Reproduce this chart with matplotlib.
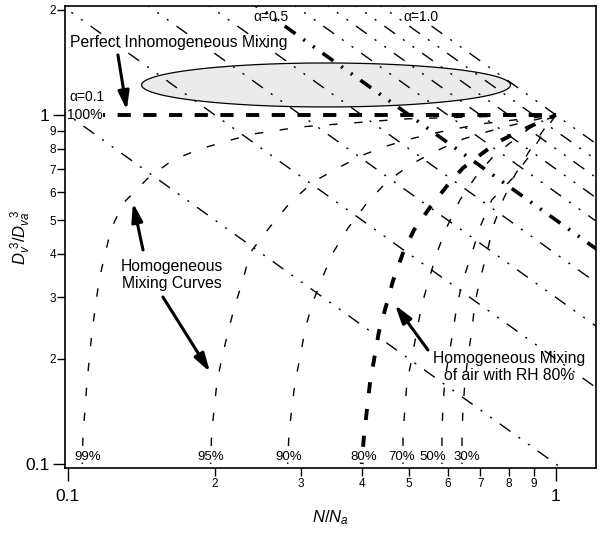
import numpy as np
import matplotlib
matplotlib.use('Agg')
import matplotlib.pyplot as plt
from matplotlib.ticker import FixedLocator, FuncFormatter

plt.rcParams['font.family'] = ['Liberation Sans', 'DejaVu Sans']
plt.rcParams['mathtext.fontset'] = 'custom'
plt.rcParams['mathtext.rm'] = 'Liberation Sans'
plt.rcParams['mathtext.it'] = 'Liberation Sans:italic'
plt.rcParams['lines.scale_dashes'] = False

# adiabatic fraction lines (LWC / LWC_a), y = alpha / x
alphas = [0.1, 0.2, 0.3, 0.4, 0.5, 0.6, 0.7, 0.8, 0.9, 1.0]

# homogeneous mixing curves (RH of entrained air)
hom_99_x = [0.107, 0.1073, 0.1094, 0.112, 0.1158, 0.119, 0.1227, 0.1305, 0.146, 0.164, 0.1865, 0.2118, 0.2395, 0.299, 0.384, 0.486, 0.667, 1.0]
hom_99_y = [0.1, 0.1195, 0.1718, 0.239, 0.3367, 0.397, 0.4745, 0.5634, 0.66, 0.743, 0.799, 0.842, 0.882, 0.924, 0.949, 0.974, 0.987, 1.0]
hom_95_x = [0.196, 0.197, 0.202, 0.2068, 0.2128, 0.22, 0.2284, 0.236, 0.2594, 0.285, 0.318, 0.361, 0.402, 0.45, 0.502, 0.565, 0.699, 1.0]
hom_95_y = [0.1, 0.1227, 0.1718, 0.2013, 0.239, 0.2855, 0.3367, 0.4024, 0.478, 0.56, 0.643, 0.71, 0.768, 0.815, 0.853, 0.888, 0.942, 1.0]
hom_90_x = [0.282, 0.2837, 0.2918, 0.2988, 0.306, 0.316, 0.33, 0.349, 0.375, 0.41, 0.45, 0.502, 0.557, 0.636, 0.768, 1.0]
hom_90_y = [0.1, 0.1227, 0.1707, 0.2013, 0.242, 0.2855, 0.3345, 0.4024, 0.4745, 0.56, 0.643, 0.719, 0.778, 0.848, 0.918, 1.0]
hom_80_x = [0.40, 0.4043, 0.4159, 0.4337, 0.4634, 0.486, 0.5117, 0.5546, 0.598, 0.645, 0.699, 0.7605, 0.836, 0.927, 1.0]
hom_80_y = [0.1, 0.1209, 0.1707, 0.239, 0.3345, 0.4024, 0.468, 0.5486, 0.626, 0.705, 0.768, 0.837, 0.894, 0.955, 1.0]
hom_70_x = [0.486, 0.486, 0.4905, 0.495, 0.507, 0.519, 0.531, 0.549, 0.57, 0.598, 0.636, 0.682, 0.739, 0.805, 0.885, 1.0]
hom_70_y = [0.1, 0.1227, 0.1446, 0.1707, 0.2013, 0.242, 0.2855, 0.3367, 0.4024, 0.478, 0.571, 0.66, 0.753, 0.831, 0.918, 1.0]
hom_50_x = [0.584, 0.584, 0.5865, 0.592, 0.6036, 0.615, 0.627, 0.645, 0.673, 0.699, 0.739, 0.816, 0.876, 0.936, 1.0]
hom_50_y = [0.1, 0.1227, 0.1446, 0.174, 0.205, 0.239, 0.2855, 0.3367, 0.4024, 0.478, 0.571, 0.66, 0.753, 0.876, 1.0]
hom_30_x = [0.642, 0.642, 0.645, 0.651, 0.66, 0.673, 0.682, 0.699, 0.722, 0.743, 0.779, 0.824, 0.885, 0.949, 1.0]
hom_30_y = [0.1, 0.1227, 0.1446, 0.1718, 0.2026, 0.242, 0.289, 0.3367, 0.4024, 0.478, 0.571, 0.673, 0.794, 0.918, 1.0]

# perfect inhomogeneous mixing (100%)
inhom_x = [0.118, 1.0]
inhom_y = [1.0, 1.0]

rh_labels = ['99%', '95%', '90%', '80%', '70%', '50%', '30%']
rh_label_x = [0.1099, 0.1965, 0.2837, 0.4043, 0.4835, 0.56, 0.657]

fig = plt.figure(figsize=(6.04, 5.33), dpi=100)
ax = fig.add_axes([0.1076, 0.1220, 0.8791, 0.8668])
ax.set_xscale('log')
ax.set_yscale('log')
ax.set_xlim(0.0986, 1.208)
ax.set_ylim(0.0974, 2.053)

# grey ellipse (drawn in log space)
t = np.linspace(0, 2 * np.pi, 200)
ell_cx, ell_cy, ell_a, ell_b = np.log10(0.338), np.log10(1.219), 0.378, 0.063
ax.fill(10 ** (ell_cx + ell_a * np.cos(t)), 10 ** (ell_cy + ell_b * np.sin(t)),
        facecolor='#ebebeb', edgecolor='black', lw=0.9, zorder=1)

# alpha lines
xx = np.array([0.09, 1.3])
for a in alphas:
    thick = abs(a - 0.5) < 1e-9
    ax.plot(xx, a / xx, color='black',
            lw=2.6 if thick else 1.0,
            linestyle=(0, (9.5, 7, 1.5, 7, 1.5, 7)), zorder=2)

# homogeneous mixing curves
thin = [(hom_99_x, hom_99_y), (hom_95_x, hom_95_y), (hom_90_x, hom_90_y),
        (hom_70_x, hom_70_y), (hom_50_x, hom_50_y), (hom_30_x, hom_30_y)]
for cx, cy in thin:
    ax.plot(cx, cy, color='black', lw=1.0, linestyle=(5, (6, 12)), zorder=3)
ax.plot(hom_80_x, hom_80_y, color='black', lw=2.8, linestyle=(7, (8, 11.4)), zorder=3)
ax.plot(inhom_x, inhom_y, color='black', lw=2.8, linestyle=(8, (9.5, 9)), zorder=3)

for lab, lx in zip(rh_labels, rh_label_x):
    ax.text(lx, 0.1047, lab, fontsize=9.5, ha='center', va='center', zorder=5)

ax.text(0.0995, 1.0, '100%', fontsize=10, ha='left', va='center', zorder=5)
ax.text(0.1005, 1.126, 'α=0.1', fontsize=10, ha='left', va='center', zorder=5)
ax.text(0.2394, 1.909, 'α=0.5', fontsize=10, ha='left', va='center', zorder=5)
ax.text(0.486, 1.909, 'α=1.0', fontsize=10, ha='left', va='center', zorder=5)

ax.text(0.1009, 1.608, 'Perfect Inhomogeneous Mixing', fontsize=11.3,
        ha='left', va='center', zorder=5)
ax.text(0.1633, 0.348, 'Homogeneous\nMixing Curves', fontsize=11.3,
        ha='center', va='center', linespacing=1.1, zorder=5)
ax.text(0.801, 0.1897, 'Homogeneous Mixing\nof air with RH 80%', fontsize=11.3,
        ha='center', va='center', linespacing=1.1, zorder=5)

arrow = dict(arrowstyle='-|>,head_length=1.1,head_width=0.33', lw=2.2,
             color='black', shrinkA=0, shrinkB=0)
ax.annotate('', xy=(0.132, 1.033), xytext=(0.1266, 1.486), arrowprops=arrow, zorder=6)
ax.annotate('', xy=(0.1359, 0.5597), xytext=(0.1425, 0.4104), arrowprops=arrow, zorder=6)
ax.annotate('', xy=(0.1954, 0.1835), xytext=(0.1565, 0.301), arrowprops=arrow, zorder=6)
ax.annotate('', xy=(0.468, 0.2855), xytext=(0.5466, 0.2122), arrowprops=arrow, zorder=6)

# ticks: decades large, in-between digits small
digit = FuncFormatter(lambda v, p: '%d' % round(v / 10 ** np.floor(np.log10(v) + 1e-9)))
ax.xaxis.set_major_locator(FixedLocator([0.1, 1]))
ax.xaxis.set_major_formatter(FuncFormatter(lambda v, p: '%g' % v))
ax.xaxis.set_minor_locator(FixedLocator(np.arange(2, 10) / 10))
ax.xaxis.set_minor_formatter(digit)
ax.yaxis.set_major_locator(FixedLocator([0.1, 1]))
ax.yaxis.set_major_formatter(FuncFormatter(lambda v, p: '%g' % v))
ax.yaxis.set_minor_locator(FixedLocator(list(np.arange(2, 10) / 10) + [2]))
ax.yaxis.set_minor_formatter(digit)

ax.tick_params(which='major', direction='out', length=9, width=1, labelsize=12.5)
ax.tick_params(which='minor', direction='out', length=5.5, width=1, labelsize=8.5)
ax.tick_params(axis='x', which='major', pad=6)
ax.tick_params(axis='x', which='minor', pad=2)
ax.tick_params(axis='y', which='major', pad=2)
ax.tick_params(axis='y', which='minor', pad=1)
for s in ax.spines.values():
    s.set_linewidth(1.2)

ax.set_ylabel(r'$D_v^{\ 3}/D_{va}^{\ \ 3}$', fontsize=12)
ax.yaxis.set_label_coords(-0.060, 0.5)
ax.set_xlabel(r'$N/N_a$', fontsize=12)
ax.xaxis.set_label_coords(0.499, -0.087)

fig.savefig('out.png', dpi=100)
